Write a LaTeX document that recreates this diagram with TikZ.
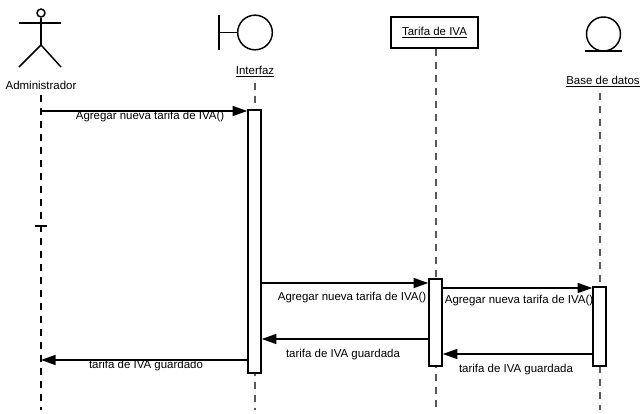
\documentclass[tikz,border=0pt]{standalone}
\usepackage{fontspec}
\setmainfont{Liberation Sans}
\usetikzlibrary{arrows.meta}
\begin{document}
\begin{tikzpicture}[x=0.75pt,y=-0.75pt,
  fig/.style={line width=1.1pt, black},
  life/.style={dash pattern=on 5.25pt off 4.5pt, line width=1pt, gray!70!black},
  adminlife/.style={dash pattern=on 5.25pt off 4.5pt, line width=1pt, black},
  actbox/.style={draw, fill=white, line width=1.1pt, minimum width=9.75pt, inner sep=0pt},
  msg/.style={line width=1.1pt, -{Triangle[length=11pt,width=7.5pt]}},
  lbl/.style={font=\fontsize{8.6}{10}\selectfont, inner sep=0pt},
]
\useasboundingbox (0,0) rectangle (640,414);

% --- Administrador (actor)
\node[circle, draw, fig, minimum size=6pt, inner sep=0pt] (head) at (41,13) {};
\coordinate (hip) at (41,45);
\draw[fig] (head.south) -- (hip);
\draw[fig] (19,23) -- (61,23);
\draw[fig] (hip) -- (19,67);
\draw[fig] (hip) -- (61,67);
\node[lbl] (admin) at (41,85) {Administrador};
\coordinate (adminEnd) at (41,410);
\draw[adminlife] (41,95) -- (adminEnd);
\draw[line width=1pt] (35,226) -- (47,226);

% --- Interfaz (boundary)
\node[circle, draw, fig, minimum size=26pt, inner sep=0pt] (ifc) at (255,32.5) {};
\draw[fig] (ifc.west) -- (219,32.5);
\draw[fig] (219,15) -- (219,50);
\node[lbl] (ifclbl) at (255,72) {\underline{Interfaz}};
\coordinate (ifcEnd) at (255,410);
\draw[life] (255,83) -- (ifcEnd);

% --- Tarifa de IVA (object)
\node[draw, fig, minimum width=65.5pt, minimum height=23.5pt, inner sep=0pt] (tarifa) at (434.5,32.5) {};
\node[lbl] (tarifalbl) at (tarifa.center) {\underline{Tarifa de IVA}};
\coordinate (tarifaEnd) at (436,410);
\draw[life] (tarifa.south -| tarifaEnd) -- (tarifaEnd);

% --- Base de datos (entity)
\node[circle, draw, fig, minimum size=25.5pt, inner sep=0pt] (db) at (603.5,34) {};
\draw[fig] (585,51) -- (622,51);
\node[lbl] (dblbl) at (603,82) {\underline{Base de datos}};
\coordinate (dbEnd) at (600,410);
\draw[life] (600,93) -- (dbEnd);

% --- activation boxes
\node[actbox, minimum height=197.25pt] (actI) at (254.5,241.5) {};
\node[actbox, minimum height=65.25pt] (actT) at (435.5,322.5) {};
\node[actbox, minimum height=59.25pt] (actD) at (599.5,326.5) {};

% --- messages
\draw[msg] (adminEnd |- 0,111) -- (actI.west |- 0,111);
\node[lbl] (m1) at (150,117) {Agregar nueva tarifa de IVA()};

\draw[msg] (actI.east |- 0,283) -- (actT.west |- 0,283);
\node[lbl] (m2) at (352,298) {Agregar nueva tarifa de IVA()};

\draw[msg] (actT.east |- 0,288) -- (actD.west |- 0,288);
\node[lbl] (m3) at (519,301) {Agregar nueva tarifa de IVA()};

\draw[msg] (actD.west |- 0,354) -- (actT.east |- 0,354);
\node[lbl] (r1) at (516,370) {tarifa de IVA guardada};

\draw[msg] (actT.west |- 0,339) -- (actI.east |- 0,339);
\node[lbl] (r2) at (343,355) {tarifa de IVA guardada};

\draw[msg] (actI.west |- 0,360) -- (adminEnd |- 0,360);
\node[lbl] (r3) at (146,366) {tarifa de IVA guardado};
\end{tikzpicture}
\end{document}
